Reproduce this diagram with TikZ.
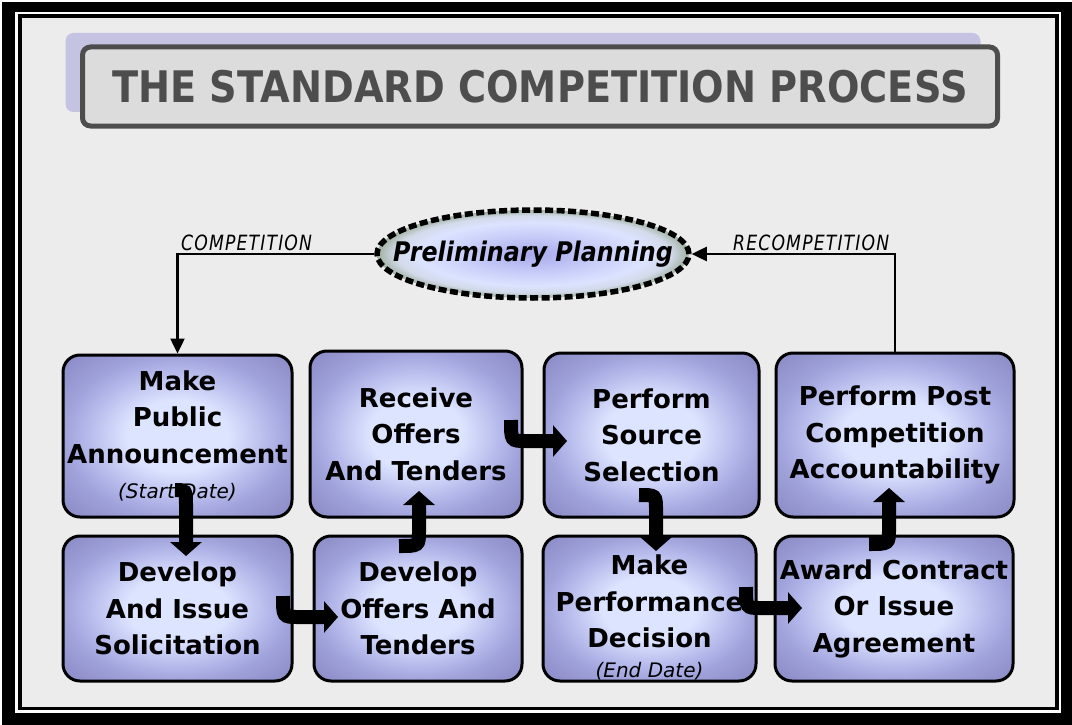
\documentclass[tikz,border=0pt]{standalone}
\usepackage{fontspec}
\setmainfont{DejaVu Sans}
\newfontfamily\condfont[FakeStretch=0.88]{DejaVu Sans}
\newfontfamily\labfont[FakeStretch=0.82,LetterSpace=5.5]{DejaVu Sans}
\usetikzlibrary{shapes.geometric,arrows.meta,shadows}
\definecolor{bgint}{HTML}{ECECEC}
\definecolor{titlefill}{HTML}{DCDCDC}
\definecolor{titledark}{HTML}{4D4D4D}
\definecolor{shadowc}{HTML}{C4C4E2}
\definecolor{boxin}{HTML}{DDE4FF}
\definecolor{boxmid}{HTML}{B4B8EA}
\definecolor{boxedge}{HTML}{A0A2DA}
\definecolor{boxout}{HTML}{8A8AC6}
\definecolor{ppin}{HTML}{A9A9EC}
\definecolor{ppmid}{HTML}{C8CEF8}
\definecolor{ppout}{HTML}{DCE3FF}
\definecolor{ppglow}{HTML}{D2DAEA}
\definecolor{pprim}{HTML}{A0B0A0}
\pgfdeclareradialshading{boxshade}{\pgfpoint{0bp}{0bp}}{color(0bp)=(boxin); color(11bp)=(boxin); color(20bp)=(boxmid); color(25bp)=(boxedge); color(35bp)=(boxout); color(50bp)=(boxout)}
\pgfdeclareradialshading{ppshade}{\pgfpoint{0bp}{0bp}}{color(0bp)=(ppin); color(11bp)=(ppmid); color(18bp)=(ppout); color(22bp)=(ppglow); color(25bp)=(pprim); color(50bp)=(pprim)}
\tikzset{
  procbox/.style={draw=black, line width=3pt, rounded corners=17pt, shading=boxshade,
    align=center, inner sep=0pt, font=\fontsize{26}{36.5}\selectfont\bfseries},
  titlebox/.style={draw=titledark, line width=5pt, fill=titlefill, rounded corners=8pt,
    minimum width=915pt, minimum height=79pt, inner sep=0pt, text=titledark,
    font=\condfont\fontsize{43.5}{50}\selectfont\bfseries,
    drop shadow={shadow xshift=-17pt, shadow yshift=14pt, fill=shadowc, opacity=1}},
  ppnode/.style={ellipse, draw=black, line width=5.5pt, dash pattern=on 8pt off 3.5pt,
    shading=ppshade, minimum width=312pt, minimum height=88pt, inner sep=0pt},
  pptext/.style={inner sep=0pt, font=\condfont\fontsize{27}{30}\selectfont\bfseries\itshape},
  lab/.style={font=\labfont\fontsize{21}{24}\selectfont\itshape, inner sep=0pt},
  conn/.style={line width=2.5pt, -{Triangle[width=14pt,length=15pt]}},
  blockarrow/.style={line width=14pt, -{Triangle[width=31pt,length=14pt]}}
}
\newcommand{\subtxt}[1]{{\fontsize{20}{24}\selectfont\mdseries\itshape #1}}
\begin{document}
\begin{tikzpicture}[x=1pt,y=-1pt]
\useasboundingbox (0,0) rectangle (1072,725);
% frame
\fill[white] (0,0) rectangle (1072,725);
\fill[black] (2,2) rectangle (1072,725);
\fill[white] (15,12) rectangle (1061,713);
\fill[black] (18,14.5) rectangle (1059,710);
\fill[bgint] (22,18) rectangle (1055,707);
% title
\node[titlebox] (title) at (540,86.5) {THE STANDARD COMPETITION PROCESS};
% preliminary planning
\node[ppnode, label={[pptext]center:Preliminary Planning}] (pp) at (533,254) {};
% process boxes
\node[procbox, minimum width=229pt, minimum height=162pt] (b1) at (177.5,436) {Make\\Public\\Announcement\\[-1pt]\subtxt{(Start Date)}};
\node[procbox, minimum width=212pt, minimum height=166pt] (b2) at (416,434) {Receive\\Offers\\And Tenders};
\node[procbox, minimum width=215pt, minimum height=164pt] (b3) at (651.5,435) {Perform\\Source\\Selection};
\node[procbox, minimum width=238pt, minimum height=164pt] (b4) at (895,435) {Perform Post\\Competition\\Accountability};
\node[procbox, minimum width=229pt, minimum height=145pt] (b5) at (177.5,608.5) {Develop\\And Issue\\Solicitation};
\node[procbox, minimum width=208pt, minimum height=145pt] (b6) at (418,608.5) {Develop\\Offers And\\Tenders};
\node[procbox, minimum width=213pt, minimum height=145pt] (b7) at (649.5,608.5) {\rule{0pt}{38pt}Make\\Performance\\Decision\\[-7pt]\subtxt{(End Date)}};
\node[procbox, minimum width=238pt, minimum height=145pt] (b8) at (894,608.5) {Award Contract\\Or Issue\\Agreement};
% labels
\node[lab, anchor=base west] (lcomp) at (181,250) {COMPETITION};
\node[lab, anchor=base west] (lrecomp) at (733,250) {RECOMPETITION};
% connectors
\draw[conn] (pp.west) -| (b1.north);
\draw[conn] (b4.north) |- (pp.east);
% block arrows
\coordinate (a1s) at (175,490); \coordinate (a1e) at (186,556);
\coordinate (a2s) at (283,596); \coordinate (a2e) at (338,617);
\coordinate (a3s) at (399,546); \coordinate (a3e) at (419,491);
\coordinate (a4s) at (511,420); \coordinate (a4e) at (567,441);
\coordinate (a5s) at (639,495); \coordinate (a5e) at (656,551);
\coordinate (a6s) at (746,587); \coordinate (a6e) at (802,608);
\coordinate (a7s) at (869,544); \coordinate (a7e) at (889,488);
\draw[blockarrow] (a1s) .. controls (186,490) .. (186,505) -- (a1e);
\draw[blockarrow] (a2s) .. controls (283,617) .. (298,617) -- (a2e);
\draw[blockarrow] (a3s) .. controls (419,546) .. (419,531) -- (a3e);
\draw[blockarrow] (a4s) .. controls (511,441) .. (526,441) -- (a4e);
\draw[blockarrow] (a5s) .. controls (656,495) .. (656,510) -- (a5e);
\draw[blockarrow] (a6s) .. controls (746,608) .. (761,608) -- (a6e);
\draw[blockarrow] (a7s) .. controls (889,544) .. (889,529) -- (a7e);
\end{tikzpicture}
\end{document}
